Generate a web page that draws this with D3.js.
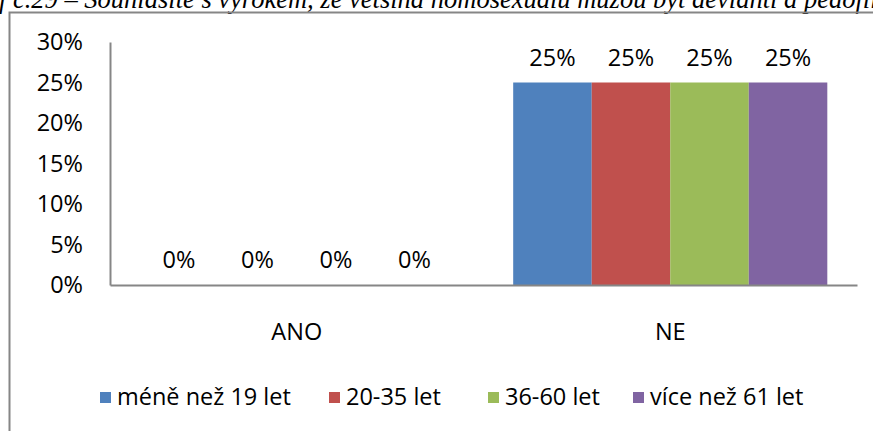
<!DOCTYPE html>
<html>
<head>
<meta charset="utf-8">
<script src="https://cdn.jsdelivr.net/npm/d3@7"></script>
<style>
  body { margin: 0; background: #fff; }
  svg { display: block; }
</style>
</head>
<body>
<div id="chart"></div>
<script>
const categories = ["ANO", "NE"];
const seriesNames = ["méně než 19 let", "20-35 let", "36-60 let", "více než 61 let"];
const ano = [0, 0, 0, 0];
const ne = [0.25, 0.25, 0.25, 0.25];
const yTicks = [0, 0.05, 0.10, 0.15, 0.20, 0.25, 0.30];
const colors = ["#4F81BD", "#C0504D", "#9BBB59", "#8064A2"];
const title = "Graf č.29 – Souhlasíte s výrokem, že většina homosexuálů můžou být devianti a pedofilové";

const width = 873, height = 431;
const font = "'Open Sans', sans-serif";
const fs = 23.5;

// rows built from the arrays above
const rows = categories.map((c, i) => ({
  cat: c,
  vals: (i === 0 ? ano : ne).map((v, j) => ({ name: seriesNames[j], value: v, color: colors[j] }))
}));

const svg = d3.select("#chart").append("svg")
  .attr("width", width)
  .attr("height", height);

// title, cut off at the top of the picture
const tmp = svg.append("text").attr("font-family", "'Liberation Serif', serif")
  .attr("font-style", "italic").attr("font-size", 26.5).text("Gra");
const shift = tmp.node().getComputedTextLength();
tmp.remove();
svg.append("text")
  .attr("x", -shift - 1)
  .attr("y", 8)
  .attr("font-family", "'Liberation Serif', serif")
  .attr("font-style", "italic")
  .attr("font-size", 26.5)
  .attr("fill", "#000")
  .text(title);

// chart frame
svg.append("rect")
  .attr("x", 9.5).attr("y", 12.5)
  .attr("width", 900).attr("height", 500)
  .attr("fill", "none")
  .attr("stroke", "#868686")
  .attr("stroke-width", 2);

const plot = { left: 110, right: 857, top: 42, bottom: 285 };

const x0 = d3.scaleBand()
  .domain(categories)
  .range([plot.left, plot.right])
  .paddingInner(0.159)
  .paddingOuter(0.0795);

const x1 = d3.scaleBand()
  .domain(seriesNames)
  .range([0, x0.bandwidth()]);

const y = d3.scaleLinear()
  .domain([0, 0.3])
  .range([plot.bottom, plot.top]);

const pct = d3.format(".0%");

// y axis
const yAxis = svg.append("g")
  .attr("transform", "translate(" + plot.left + ",0)")
  .call(d3.axisLeft(y).tickValues(yTicks).tickFormat(pct).tickSize(0).tickPadding(27));
yAxis.select(".domain").attr("stroke", "#868686").attr("stroke-width", 2);
yAxis.selectAll("text")
  .attr("font-family", font)
  .attr("font-size", fs)
  .attr("fill", "#000");

// bars
const groups = svg.selectAll(".grp")
  .data(rows)
  .enter()
  .append("g")
  .attr("transform", d => "translate(" + x0(d.cat) + ",0)");

groups.selectAll("rect")
  .data(d => d.vals)
  .enter()
  .append("rect")
  .attr("x", d => x1(d.name))
  .attr("y", d => y(d.value))
  .attr("width", x1.bandwidth())
  .attr("height", d => y(0) - y(d.value))
  .attr("fill", d => d.color);

groups.selectAll(".lbl")
  .data(d => d.vals)
  .enter()
  .append("text")
  .attr("x", d => x1(d.name) + x1.bandwidth() / 2)
  .attr("y", d => y(d.value) - 25)
  .attr("dy", "0.35em")
  .attr("text-anchor", "middle")
  .attr("font-family", font)
  .attr("font-size", fs)
  .attr("fill", "#000")
  .text(d => pct(d.value));

// x axis
const xAxis = svg.append("g")
  .attr("transform", "translate(0," + plot.bottom + ")")
  .call(d3.axisBottom(x0).tickSize(0).tickPadding(38).tickSizeOuter(0));
xAxis.select(".domain").attr("stroke", "#868686").attr("stroke-width", 2);
xAxis.selectAll("text")
  .attr("font-family", font)
  .attr("font-size", fs)
  .attr("fill", "#000");

// legend
const legendX = [100, 329, 488, 633];
const legend = svg.append("g");
seriesNames.forEach((name, i) => {
  const g = legend.append("g").attr("transform", "translate(" + legendX[i] + ",397)");
  g.append("rect")
    .attr("x", 0).attr("y", -5)
    .attr("width", 11).attr("height", 11)
    .attr("fill", colors[i]);
  g.append("text")
    .attr("x", 17)
    .attr("y", 0)
    .attr("dy", "0.35em")
    .attr("font-family", font)
    .attr("font-size", fs)
    .attr("fill", "#000")
    .text(name);
});
</script>
</body>
</html>
